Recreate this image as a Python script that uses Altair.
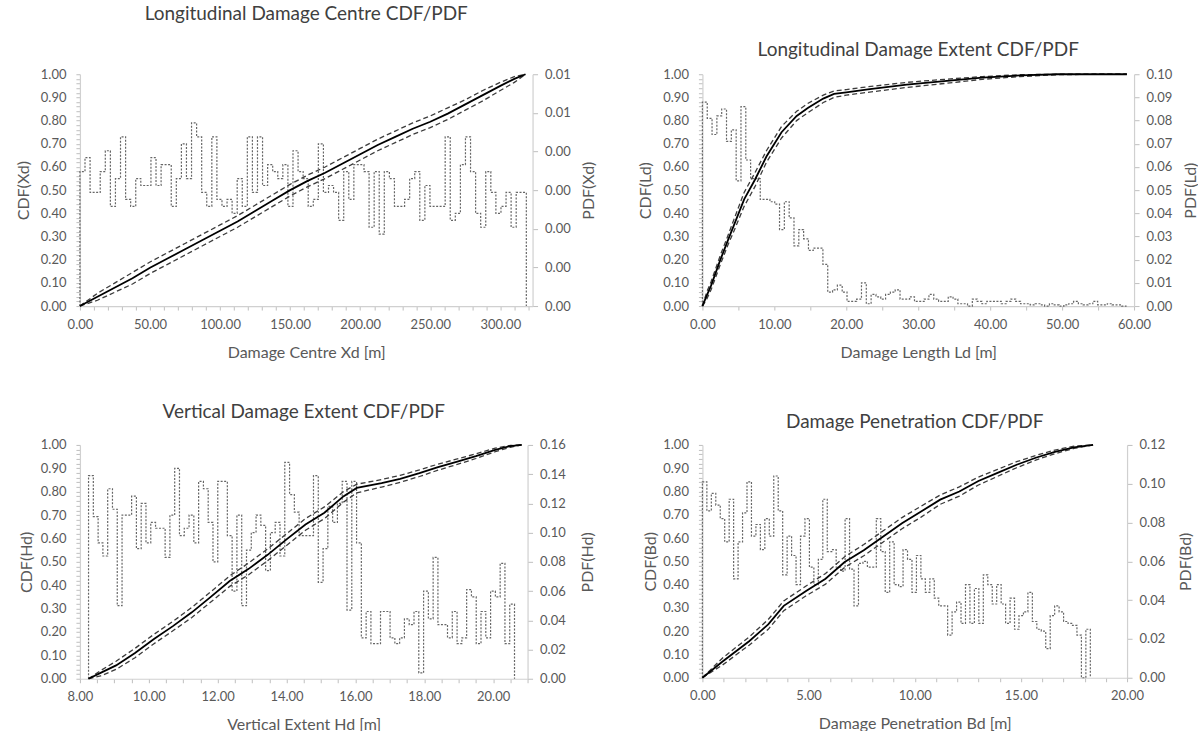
import altair as alt
import pandas as pd

FONT = "Lato"
TEXT = "#595959"
TITLE_C = "#404040"
DOMAIN_C = "#d0d0d0"
TICK_C = "#bfbfbf"

# ---------------- Panel 1: Longitudinal Damage Centre ----------------
XD_X = [0, 12.5, 25, 37.5, 50, 62.5, 75, 87.5, 100, 112.5, 125, 137.5, 150, 162.5,
        175, 187.5, 200, 212.5, 225, 237.5, 250, 262.5, 275, 287.5, 300, 310, 318]
XD_CDF = [0, 0.04, 0.08, 0.12, 0.165, 0.205, 0.245, 0.285, 0.325, 0.365, 0.41, 0.455,
          0.50, 0.54, 0.575, 0.615, 0.655, 0.695, 0.73, 0.765, 0.795, 0.83, 0.87, 0.91,
          0.95, 0.98, 1.0]
XD_UP = [0, 0.055, 0.10, 0.145, 0.19, 0.23, 0.27, 0.31, 0.35, 0.39, 0.435, 0.48, 0.525,
         0.565, 0.60, 0.64, 0.68, 0.72, 0.755, 0.79, 0.82, 0.855, 0.89, 0.93, 0.965, 0.99, 1.0]
XD_LO = [0, 0.025, 0.06, 0.095, 0.14, 0.18, 0.22, 0.26, 0.30, 0.34, 0.385, 0.43, 0.475,
         0.515, 0.55, 0.59, 0.63, 0.67, 0.705, 0.74, 0.77, 0.805, 0.845, 0.885, 0.93, 0.965, 1.0]
XD_BIN_START = 0.0
XD_BIN_WIDTH = 3.62
XD_PDF = [0.00348, 0.00384, 0.00294, 0.00294, 0.00348, 0.00402, 0.00258, 0.0033, 0.00438, 0.00276,
          0.00258, 0.0033, 0.00312, 0.00312, 0.00384, 0.00312, 0.00366, 0.00366, 0.00258, 0.0033,
          0.0042, 0.0033, 0.00474, 0.00438, 0.00294, 0.00258, 0.00438, 0.00276, 0.00258, 0.00276,
          0.0024, 0.0033, 0.00258, 0.00438, 0.00294, 0.00438, 0.00312, 0.00366, 0.00348, 0.0033,
          0.00366, 0.00258, 0.00402, 0.00348, 0.0033, 0.00258, 0.00276, 0.0042, 0.00294, 0.00312,
          0.00294, 0.00222, 0.00348, 0.00276, 0.00366, 0.00366, 0.00348, 0.00204, 0.00348, 0.00186,
          0.00348, 0.0033, 0.00258, 0.00258, 0.00276, 0.0033, 0.00348, 0.00222, 0.00312, 0.00258,
          0.00258, 0.00258, 0.00438, 0.00222, 0.0024, 0.00366, 0.00438, 0.00348, 0.0024, 0.00204,
          0.00348, 0.00294, 0.0024, 0.00258, 0.00294, 0.00204, 0.00294, 0.00294]
XD_PDF_TICKS = [0, 0.001, 0.002, 0.003, 0.004, 0.005, 0.006]

# ---------------- Panel 2: Longitudinal Damage Extent ----------------
LD_X = [0, 0.6, 1.2, 2.5, 3.5, 4.4, 5.8, 7.3, 8.9, 11, 13.1, 14.7, 16.8, 18.3, 20, 23,
        28.4, 33.6, 38.9, 44.2, 49.4, 55, 59]
LD_CDF = [0, 0.045, 0.088, 0.2, 0.28, 0.35, 0.46, 0.545, 0.645, 0.75, 0.82, 0.855, 0.895,
          0.915, 0.922, 0.935, 0.955, 0.97, 0.985, 0.995, 1.0, 1.0, 1.0]
LD_UP = [0, 0.06, 0.105, 0.22, 0.30, 0.375, 0.49, 0.575, 0.67, 0.775, 0.84, 0.875, 0.91,
         0.928, 0.934, 0.946, 0.965, 0.978, 0.99, 0.998, 1.0, 1.0, 1.0]
LD_LO = [0, 0.03, 0.07, 0.18, 0.26, 0.325, 0.43, 0.515, 0.62, 0.725, 0.80, 0.835, 0.878,
         0.9, 0.91, 0.922, 0.943, 0.96, 0.978, 0.99, 0.998, 1.0, 1.0]
LD_BIN_START = 0.0
LD_BIN_WIDTH = 0.67
LD_PDF = [0.088, 0.081, 0.074, 0.082, 0.085, 0.071, 0.076, 0.054, 0.086, 0.063,
          0.055, 0.055, 0.046, 0.046, 0.045, 0.044, 0.033, 0.045, 0.038, 0.026,
          0.033, 0.029, 0.024, 0.025, 0.025, 0.018, 0.006, 0.007, 0.009, 0.006,
          0.002, 0.002, 0.003, 0.010, 0.001, 0.005, 0.004, 0.003, 0.005, 0.006,
          0.007, 0.003, 0.003, 0.004, 0.002, 0.002, 0.003, 0.005, 0.003, 0.002,
          0.002, 0.004, 0.003, 0.001, 0.001, 0.000, 0.003, 0.002, 0.001, 0.002,
          0.002, 0.002, 0.001, 0.002, 0.003, 0.002, 0.001, 0.001, 0.0005, 0.001,
          0.0005, 0.0, 0.001, 0.0005, 0.0, 0.0005, 0.001, 0.002, 0.001, 0.0005,
          0.001, 0.002, 0.0005, 0.0005, 0.001, 0.0005, 0.0005, 0.0]
LD_PDF_TICKS = [0, 0.01, 0.02, 0.03, 0.04, 0.05, 0.06, 0.07, 0.08, 0.09, 0.10]

# ---------------- Panel 3: Vertical Damage Extent ----------------
HD_X = [8.25, 8.6, 9.05, 9.6, 10.15, 10.7, 11.25, 11.8, 12.35, 12.9, 13.45, 14.0, 14.55,
        15.1, 15.65, 16.04, 16.76, 17.3, 17.86, 18.4, 18.96, 19.5, 20.06, 20.5, 20.83]
HD_CDF = [0, 0.025, 0.057, 0.11, 0.17, 0.225, 0.284, 0.35, 0.418, 0.47, 0.53, 0.596, 0.66,
          0.71, 0.78, 0.816, 0.837, 0.855, 0.879, 0.905, 0.929, 0.952, 0.979, 0.995, 1.0]
HD_UP = [0, 0.035, 0.075, 0.13, 0.19, 0.245, 0.305, 0.372, 0.44, 0.495, 0.555, 0.62, 0.685,
         0.735, 0.8, 0.832, 0.852, 0.87, 0.893, 0.918, 0.94, 0.962, 0.986, 0.998, 1.0]
HD_LO = [0, 0.012, 0.04, 0.09, 0.15, 0.205, 0.262, 0.328, 0.395, 0.445, 0.505, 0.57, 0.635,
         0.685, 0.755, 0.795, 0.82, 0.84, 0.865, 0.892, 0.917, 0.942, 0.971, 0.99, 1.0]
HD_BIN_START = 8.25
HD_BIN_WIDTH = 0.139
HD_PDF = [0.139, 0.111, 0.093, 0.084, 0.130, 0.116, 0.050, 0.112, 0.112, 0.125,
          0.089, 0.120, 0.093, 0.107, 0.103, 0.103, 0.083, 0.112, 0.144, 0.098,
          0.103, 0.112, 0.093, 0.135, 0.130, 0.107, 0.080, 0.135, 0.135, 0.098,
          0.060, 0.112, 0.050, 0.088, 0.100, 0.112, 0.105, 0.074, 0.100, 0.107,
          0.084, 0.148, 0.126, 0.114, 0.098, 0.098, 0.098, 0.139, 0.066, 0.089,
          0.118, 0.107, 0.120, 0.135, 0.047, 0.135, 0.093, 0.028, 0.046, 0.024,
          0.024, 0.046, 0.046, 0.028, 0.024, 0.028, 0.041, 0.037, 0.046, 0.004,
          0.060, 0.041, 0.083, 0.037, 0.037, 0.028, 0.046, 0.024, 0.028, 0.061,
          0.056, 0.024, 0.046, 0.028, 0.060, 0.056, 0.079, 0.024, 0.051]
HD_PDF_TICKS = [0, 0.02, 0.04, 0.06, 0.08, 0.10, 0.12, 0.14, 0.16]

# ---------------- Panel 4: Damage Penetration ----------------
BD_X = [0, 0.95, 2.2, 3.1, 3.83, 4.9, 5.8, 6.7, 7.6, 8.5, 9.4, 10.3, 11.2, 12.1, 13.0,
        13.9, 14.8, 15.7, 16.6, 17.5, 18.4]
BD_CDF = [0, 0.07, 0.157, 0.229, 0.309, 0.374, 0.425, 0.497, 0.548, 0.606, 0.664, 0.714,
          0.765, 0.80, 0.845, 0.88, 0.915, 0.945, 0.97, 0.99, 1.0]
BD_UP = [0, 0.085, 0.175, 0.25, 0.33, 0.395, 0.448, 0.52, 0.572, 0.63, 0.688, 0.737, 0.785,
         0.82, 0.862, 0.895, 0.928, 0.955, 0.978, 0.995, 1.0]
BD_LO = [0, 0.055, 0.14, 0.208, 0.288, 0.353, 0.402, 0.474, 0.524, 0.582, 0.64, 0.69, 0.745,
         0.78, 0.828, 0.865, 0.902, 0.935, 0.962, 0.985, 1.0]
BD_BIN_START = 0.0
BD_BIN_WIDTH = 0.21
BD_PDF = [0.101, 0.086, 0.095, 0.089, 0.082, 0.070, 0.092, 0.051, 0.070, 0.085,
          0.101, 0.073, 0.079, 0.066, 0.082, 0.073, 0.104, 0.086, 0.053, 0.073,
          0.063, 0.048, 0.073, 0.082, 0.057, 0.048, 0.061, 0.092, 0.065, 0.066,
          0.057, 0.055, 0.082, 0.056, 0.037, 0.059, 0.060, 0.057, 0.057, 0.082,
          0.065, 0.044, 0.070, 0.048, 0.047, 0.066, 0.061, 0.044, 0.063, 0.051,
          0.044, 0.051, 0.041, 0.037, 0.037, 0.022, 0.034, 0.039, 0.028, 0.048,
          0.028, 0.046, 0.028, 0.053, 0.048, 0.038, 0.048, 0.038, 0.028, 0.041,
          0.025, 0.032, 0.034, 0.044, 0.029, 0.025, 0.024, 0.015, 0.032, 0.037,
          0.034, 0.029, 0.028, 0.027, 0.022, 0.0, 0.025]
BD_PDF_TICKS = [0, 0.02, 0.04, 0.06, 0.08, 0.10, 0.12]


def step_frame(start, width, levels):
    xs, ys = [start], [0.0]
    for i, v in enumerate(levels):
        left = start + i * width
        xs += [left, left + width]
        ys += [v, v]
    xs.append(start + len(levels) * width)
    ys.append(0.0)
    return pd.DataFrame({"x": xs, "pdf": ys, "ord": list(range(len(xs)))})


def label_expr(base, step, fmt=".2f"):
    return (f"abs((datum.value - ({base}))/{step} - round((datum.value - ({base}))/{step})) < 1e-6"
            f" ? format(datum.value, '{fmt}') : ''")


def make_panel(title, t_off, xs, cdf, up, lo, b0, bw, pdf, pdf_ticks,
               xdom, x_minor, x_major, xtitle, ytitle, ptitle, w, h, ltx, rtx):
    cdf_df = pd.DataFrame({"x": xs, "cdf": cdf, "ord": list(range(len(xs)))})
    bnd_df = pd.concat([
        pd.DataFrame({"x": xs, "cdf": up, "series": "upper", "ord": list(range(len(xs)))}),
        pd.DataFrame({"x": xs, "cdf": lo, "series": "lower", "ord": list(range(len(xs)))}),
    ])
    pdf_df = step_frame(b0, bw, pdf)

    n_minor = int(round((xdom[1] - xdom[0]) / x_minor))
    xticks = [round(xdom[0] + i * x_minor, 4) for i in range(n_minor + 1)]
    xscale = alt.Scale(domain=xdom, nice=False, zero=False)
    xaxis = alt.Axis(values=xticks, labelExpr=label_expr(xdom[0], x_major), title=xtitle,
                     titleX=w / 2, titleY=46, titleBaseline="middle", tickSize=4,
                     labelPadding=8, labelFlush=False, labelOverlap=False)
    xenc = alt.X("x:Q", scale=xscale, axis=xaxis)

    yticks = [round(i * 0.02, 2) for i in range(51)]
    yscale = alt.Scale(domain=[0, 1], nice=False, zero=True)
    yaxis = alt.Axis(orient="left", values=yticks, labelExpr=label_expr(0, 0.1), title=ytitle,
                     titleX=ltx, titleY=h / 2, titleAngle=270, titleBaseline="middle",
                     tickSize=4, labelPadding=10, labelOverlap=False, labelFlush=False)

    pscale = alt.Scale(domain=[pdf_ticks[0], pdf_ticks[-1]], nice=False, zero=True)
    paxis = alt.Axis(orient="right", values=pdf_ticks, format=".2f", title=ptitle,
                     titleX=rtx, titleY=h / 2, titleAngle=270, titleBaseline="middle",
                     tickSize=5, labelPadding=7, labelOverlap=False, labelFlush=False)

    pdf_layer = alt.Chart(pdf_df).mark_line(
        color="#666666", strokeDash=[2, 1.5], strokeWidth=1.2
    ).encode(x=xenc, y=alt.Y("pdf:Q", scale=pscale, axis=paxis), order="ord:Q")

    bnd_layer = alt.Chart(bnd_df).mark_line(
        color="#3c3c3c", strokeDash=[5, 3], strokeWidth=1.3
    ).encode(x=xenc, y=alt.Y("cdf:Q", scale=yscale, axis=yaxis),
             detail="series:N", order="ord:Q")
    cdf_layer = alt.Chart(cdf_df).mark_line(color="#000000", strokeWidth=1.8).encode(
        x=xenc, y=alt.Y("cdf:Q", scale=yscale, axis=yaxis), order="ord:Q")

    return alt.layer(pdf_layer, alt.layer(bnd_layer, cdf_layer)).resolve_scale(
        y="independent"
    ).properties(
        width=w, height=h,
        title=alt.TitleParams(title, offset=t_off, anchor="middle", fontSize=19,
                              font=FONT, fontWeight="normal", color=TITLE_C),
    )


p1 = make_panel("Longitudinal Damage Centre CDF/PDF", 44, XD_X, XD_CDF, XD_UP, XD_LO,
                XD_BIN_START, XD_BIN_WIDTH, XD_PDF, XD_PDF_TICKS,
                [0, 323], 10, 50, "Damage Centre Xd [m]", "CDF(Xd)", "PDF(Xd)",
                453, 232, -56, 56)
p2 = make_panel("Longitudinal Damage Extent CDF/PDF", 8, LD_X, LD_CDF, LD_UP, LD_LO,
                LD_BIN_START, LD_BIN_WIDTH, LD_PDF, LD_PDF_TICKS,
                [0, 60], 5, 10, "Damage Length  Ld [m]", "CDF(Ld)", "PDF(Ld)",
                432, 232, -57, 56)
p3 = make_panel("Vertical Damage Extent  CDF/PDF", 17, HD_X, HD_CDF, HD_UP, HD_LO,
                HD_BIN_START, HD_BIN_WIDTH, HD_PDF, HD_PDF_TICKS,
                [8, 21], 0.5, 2, "Vertical Extent Hd  [m]", "CDF(Hd)", "PDF(Hd)",
                448, 234, -53, 60)
p4 = make_panel("Damage Penetration  CDF/PDF", 7, BD_X, BD_CDF, BD_UP, BD_LO,
                BD_BIN_START, BD_BIN_WIDTH, BD_PDF, BD_PDF_TICKS,
                [0, 20], 1, 5, "Damage Penetration Bd [m]", "CDF(Bd)", "PDF(Bd)",
                425, 233, -52, 58)

chart = alt.concat(p1, p2, p3, p4, columns=2, spacing={"row": 139, "column": 170},
                   bounds="flush").properties(
    padding={"left": 16, "top": 5, "right": 0, "bottom": 0},
    background="white",
).configure_view(stroke=None).configure_axis(
    grid=False,
    labelFont=FONT, labelFontSize=13, labelColor=TEXT,
    titleFont=FONT, titleFontSize=16, titleFontWeight="normal", titleColor=TEXT,
    domainColor=DOMAIN_C, tickColor=TICK_C, domainWidth=1.2,
)

chart.save("out.html", embed_options={"renderer": "svg", "actions": False})
